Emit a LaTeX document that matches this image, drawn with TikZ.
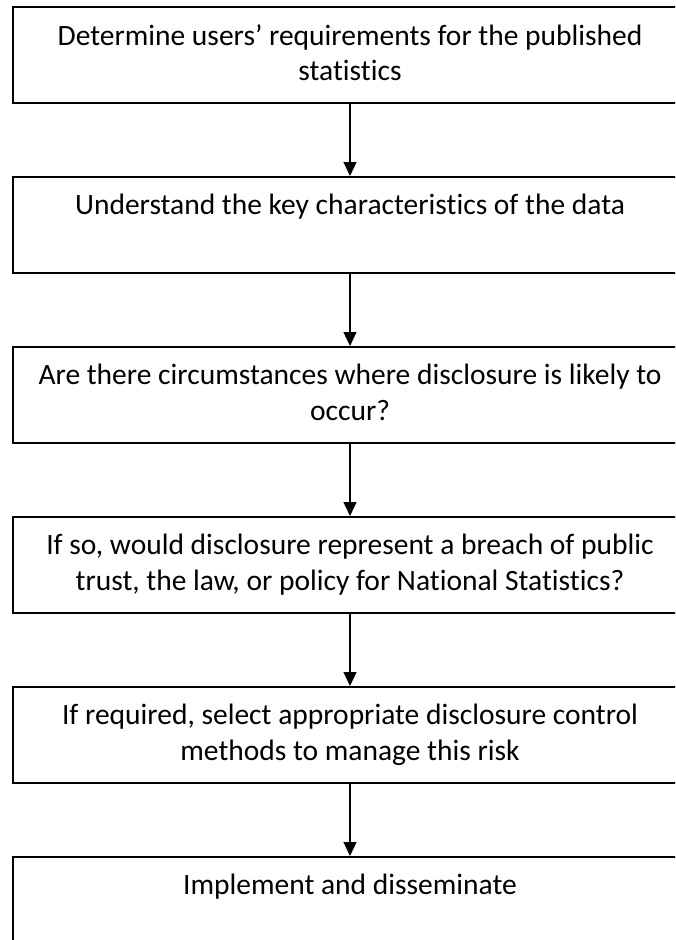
\documentclass[tikz,border=0pt]{standalone}
\usepackage{fontspec}
\setmainfont{Carlito}[Ligatures={TeX,NoCommon}]
\usetikzlibrary{positioning,arrows.meta}

\tikzset{
  stepbox/.style={draw, line width=2pt, minimum width=674pt, minimum height=96pt, inner sep=0pt},
  steptext/.style={anchor=north, align=center, inner sep=0pt, font=\fontsize{29.5}{35.5}\selectfont},
  steparrow/.style={line width=1.2pt, -{Triangle[length=14pt,width=13pt]}}
}

\begin{document}
\begin{tikzpicture}[x=1pt,y=-1pt]
% page is cut off on the right and at the bottom, like the original
\useasboundingbox (0,0) rectangle (675,940);
\clip (0,0) rectangle (675,940);
\fill[white] (0,0) rectangle (675,940);

\node[stepbox] (b1) at (350,55) {};
\node[stepbox, below=72pt of b1] (b2) {};
\node[stepbox, below=72pt of b2] (b3) {};
\node[stepbox, below=72pt of b3] (b4) {};
\node[stepbox, below=72pt of b4] (b5) {};
\node[stepbox, below=72pt of b5] (b6) {};

\node[steptext] (t1) at ([yshift=-18pt]b1.north) {Determine users' requirements for the published\\statistics};
\node[steptext] (t2) at ([yshift=-18pt]b2.north) {Understand the key characteristics of the data};
\node[steptext] (t3) at ([yshift=-18pt]b3.north) {Are there circumstances where disclosure is likely to\\occur?};
\node[steptext] (t4) at ([yshift=-18pt]b4.north) {If so, would disclosure represent a breach of public\\trust, the law, or policy for National Statistics?};
\node[steptext] (t5) at ([yshift=-18pt]b5.north) {If required, select appropriate disclosure control\\methods to manage this risk};
\node[steptext] (t6) at ([yshift=-18pt]b6.north) {Implement and disseminate};

\foreach \a/\b in {b1/b2, b2/b3, b3/b4, b4/b5, b5/b6}{
  \draw[steparrow] (\a) -- (\b);
}

\end{tikzpicture}
\end{document}
